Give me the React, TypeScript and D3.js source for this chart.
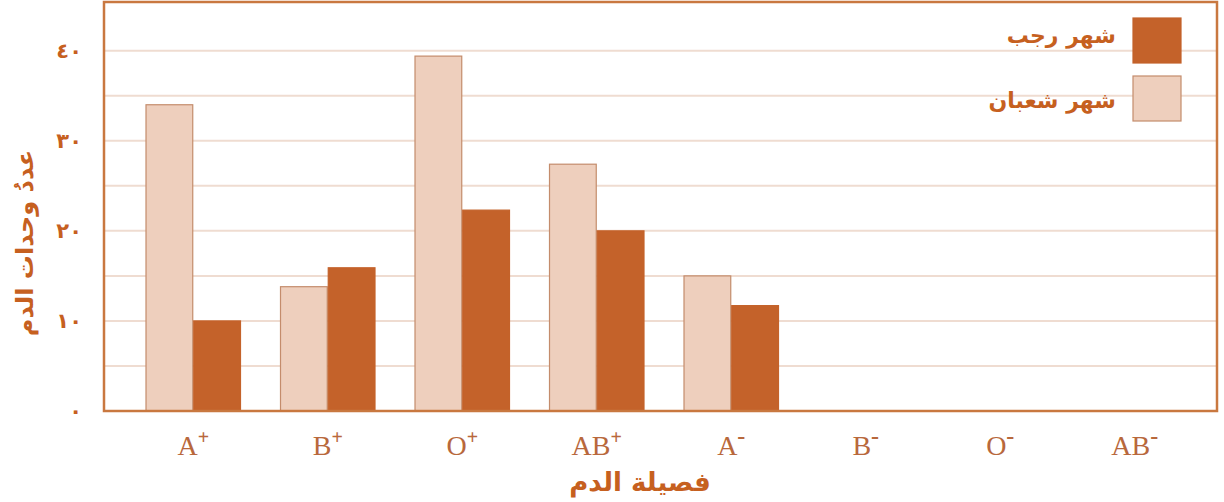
import { scaleBand, scaleLinear } from "d3";

const groups = ["A+", "B+", "O+", "AB+", "A-", "B-", "O-", "AB-"];
const shabanValues = [34, 13.8, 39.4, 27.4, 15, 0, 0, 0];
const rajabValues = [10, 15.9, 22.3, 20, 11.7, 0, 0, 0];
const seriesNames = ["شهر شعبان", "شهر رجب"];
const yTicks = [0, 10, 20, 30, 40];
const yTickLabels = ["٠", "١٠", "٢٠", "٣٠", "٤٠"];
const yGrid = [5, 10, 15, 20, 25, 30, 35, 40];

const W = 1224;
const H = 502;
const frame = { left: 104, top: 2, right: 1217, bottom: 411 };

const DARK = "#c4622a";
const LIGHT = "#eecfbd";
const LIGHT_STROKE = "#c48c6c";
const FRAME = "#c97840";
const GRID = "#efdcd1";
const TEXT = "#c6601f";
const LABEL = "#b8683c";
const AR_FONT = "'DejaVu Sans', 'Noto Sans', sans-serif";

export default function App() {
  const x = scaleBand<string>()
    .domain(groups)
    .range([126, 1202])
    .paddingInner(0.29)
    .paddingOuter(0.145);

  const sub = scaleBand<number>()
    .domain([0, 1])
    .range([0, x.bandwidth()]);

  const y = scaleLinear().domain([0, 40]).range([frame.bottom, 50.7]);

  const series = [
    { values: shabanValues, fill: LIGHT, stroke: LIGHT_STROKE },
    { values: rajabValues, fill: DARK, stroke: DARK },
  ];

  return (
    <svg
      width={W}
      height={H}
      style={{ position: "absolute", left: 0, top: 0, background: "#fff" }}
    >
      {/* Grid lines */}
      {yGrid.map((v) => (
        <line
          key={v}
          x1={frame.left}
          x2={frame.right}
          y1={y(v)}
          y2={y(v)}
          stroke={GRID}
          strokeWidth={2}
        />
      ))}

      {/* Bars */}
      {groups.map((g, i) => (
        <g key={g} transform={`translate(${x(g)},0)`}>
          {series.map((s, j) =>
            s.values[i] > 0 ? (
              <rect
                key={j}
                x={sub(j)! + 0.5}
                y={y(s.values[i])}
                width={sub.bandwidth() - 1}
                height={frame.bottom - y(s.values[i])}
                fill={s.fill}
                stroke={s.stroke}
                strokeWidth={1.2}
              />
            ) : null
          )}
        </g>
      ))}

      {/* Frame */}
      <rect
        x={frame.left}
        y={frame.top}
        width={frame.right - frame.left}
        height={frame.bottom - frame.top}
        fill="none"
        stroke={FRAME}
        strokeWidth={2.5}
      />

      {/* Y tick labels */}
      {yTicks.map((v, i) => (
        <text
          key={v}
          x={82}
          y={y(v)}
          dy="0.35em"
          textAnchor="end"
          fontFamily={AR_FONT}
          fontWeight="bold"
          fontSize={21}
          fill={TEXT}
        >
          {yTickLabels[i]}
        </text>
      ))}

      {/* X labels */}
      {groups.map((g) => {
        const base = g.replace(/[+-]/, "");
        const plus = g.endsWith("+");
        return (
          <text
            key={g}
            x={x(g)! + x.bandwidth() / 2}
            y={455}
            textAnchor="middle"
            fontFamily="'Liberation Serif', 'DejaVu Serif', serif"
            fontSize={28}
            fill={LABEL}
          >
            {base}
            <tspan dy={-11} fontSize={plus ? 20 : 24} fontWeight="bold">
              {plus ? "+" : "-"}
            </tspan>
          </text>
        );
      })}

      {/* X axis title */}
      <text
        x={640}
        y={491}
        textAnchor="middle"
        direction="rtl"
        fontFamily={AR_FONT}
        fontWeight="bold"
        fontSize={26}
        fill={TEXT}
      >
        فصيلة الدم
      </text>

      {/* Y axis title */}
      <text
        transform="translate(33,243) rotate(-90)"
        textAnchor="middle"
        direction="rtl"
        fontFamily={AR_FONT}
        fontWeight="bold"
        fontSize={24}
        fill={TEXT}
      >
        عددُ وحدات الدم
      </text>

      {/* Legend */}
      {[
        { name: seriesNames[1], fill: DARK, stroke: DARK, y0: 18, ty: 43 },
        { name: seriesNames[0], fill: LIGHT, stroke: LIGHT_STROKE, y0: 76, ty: 108 },
      ].map((l) => (
        <g key={l.name}>
          <rect
            x={1133}
            y={l.y0}
            width={48}
            height={45}
            fill={l.fill}
            stroke={l.stroke}
            strokeWidth={1.2}
          />
          <text
            x={1116}
            y={l.ty}
            textAnchor="start"
            direction="rtl"
            fontFamily={AR_FONT}
            fontWeight="bold"
            fontSize={22}
            fill={TEXT}
          >
            {l.name}
          </text>
        </g>
      ))}
    </svg>
  );
}
